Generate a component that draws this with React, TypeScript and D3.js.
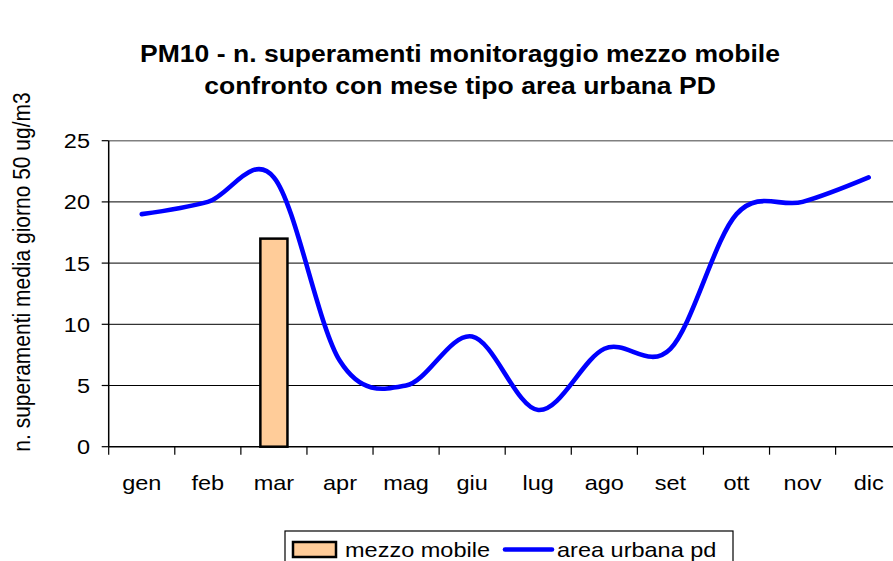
import * as d3 from "d3";

const months = ["gen", "feb", "mar", "apr", "mag", "giu", "lug", "ago", "set", "ott", "nov", "dic"];
const mezzoMobile: (number | null)[] = [null, null, 17, null, null, null, null, null, null, null, null, null];
const areaUrbana = [19, 20, 22, 7, 5, 9, 3, 8, 8, 19, 20, 22];
const yTicks = [0, 5, 10, 15, 20, 25];

const W = 893;
const H = 561;
const FONT = "Arial, 'Liberation Sans', sans-serif";
// the original picture is a bit wider than tall, text glyphs included
const SX = 1.12;

function HText({ x, y, anchor = "start", size = 21, bold = false, dy, children }: any) {
  return (
    <text
      transform={`translate(${x},${y}) scale(${SX},1)`}
      textAnchor={anchor}
      fontSize={size}
      fontWeight={bold ? "bold" : "normal"}
      dy={dy}
    >
      {children}
    </text>
  );
}

export default function App() {
  const x = d3.scaleBand<string>().domain(months).range([108.7, 901.7]).padding(0);
  const y = d3.scaleLinear().domain([0, 25]).range([446.7, 140.7]);

  const line = d3
    .line<number>()
    .x((_, i) => x(months[i])! + x.bandwidth() / 2)
    .y((d) => y(d))
    .curve(d3.curveCardinal.tension(0));

  const barW = x.bandwidth() * 0.41;
  const [x0, x1] = x.range();

  return (
    <svg width={W} height={H} style={{ position: "absolute", left: 0, top: 0, background: "#fff" }} fontFamily={FONT}>
      {/* title */}
      <HText x={460} y={62} anchor="middle" size={23.7} bold>
        PM10 - n. superamenti monitoraggio mezzo mobile
      </HText>
      <HText x={460} y={93.5} anchor="middle" size={23.7} bold>
        confronto con mese tipo area urbana PD
      </HText>

      {/* grid */}
      {yTicks.slice(1, -1).map((t) => (
        <line key={t} x1={x0} x2={x1} y1={y(t)} y2={y(t)} stroke="#000" strokeWidth={1} />
      ))}
      <line x1={x0} x2={x1} y1={y(25)} y2={y(25)} stroke="#808080" strokeWidth={1.5} />

      {/* bars */}
      {mezzoMobile.map((v, i) =>
        v == null ? null : (
          <rect
            key={i}
            x={x(months[i])! + (x.bandwidth() - barW) / 2}
            y={y(v)}
            width={barW}
            height={y(0) - y(v)}
            fill="#FFCC99"
            stroke="#000"
            strokeWidth={2.5}
          />
        )
      )}

      {/* line */}
      <path d={line(areaUrbana) ?? ""} fill="none" stroke="#0000FF" strokeWidth={4.6} strokeLinecap="round" strokeLinejoin="round" />

      {/* y axis */}
      <line x1={x0} x2={x0} y1={y(25)} y2={y(0)} stroke="#000" strokeWidth={1.5} />
      {yTicks.map((t) => (
        <g key={t}>
          <line x1={x0 - 7} x2={x0} y1={y(t)} y2={y(t)} stroke="#000" strokeWidth={1.2} />
          <HText x={90} y={y(t)} dy="0.36em" anchor="end">
            {t}
          </HText>
        </g>
      ))}

      {/* x axis */}
      <line x1={x0} x2={x1} y1={y(0)} y2={y(0)} stroke="#000" strokeWidth={1.5} />
      {months.map((m) => (
        <g key={m}>
          <line x1={x(m)!} x2={x(m)!} y1={y(0)} y2={y(0) + 8} stroke="#000" strokeWidth={1.2} />
          <HText x={x(m)! + x.bandwidth() / 2} y={490} anchor="middle">
            {m}
          </HText>
        </g>
      ))}

      {/* y axis title */}
      <text transform={`translate(29.5,272) rotate(-90) scale(1,${SX})`} textAnchor="middle" fontSize={21}>
        n. superamenti media giorno 50 ug/m3
      </text>

      {/* legend */}
      <rect x={285} y={531} width={448} height={45} fill="#fff" stroke="#000" strokeWidth={1.2} />
      <rect x={293} y={542} width={43} height={15} fill="#FFCC99" stroke="#000" strokeWidth={2.5} />
      <HText x={345} y={557}>mezzo mobile</HText>
      <line x1={505} x2={552} y1={549.5} y2={549.5} stroke="#0000FF" strokeWidth={4.6} strokeLinecap="round" />
      <HText x={557} y={557}>area urbana pd</HText>
    </svg>
  );
}
